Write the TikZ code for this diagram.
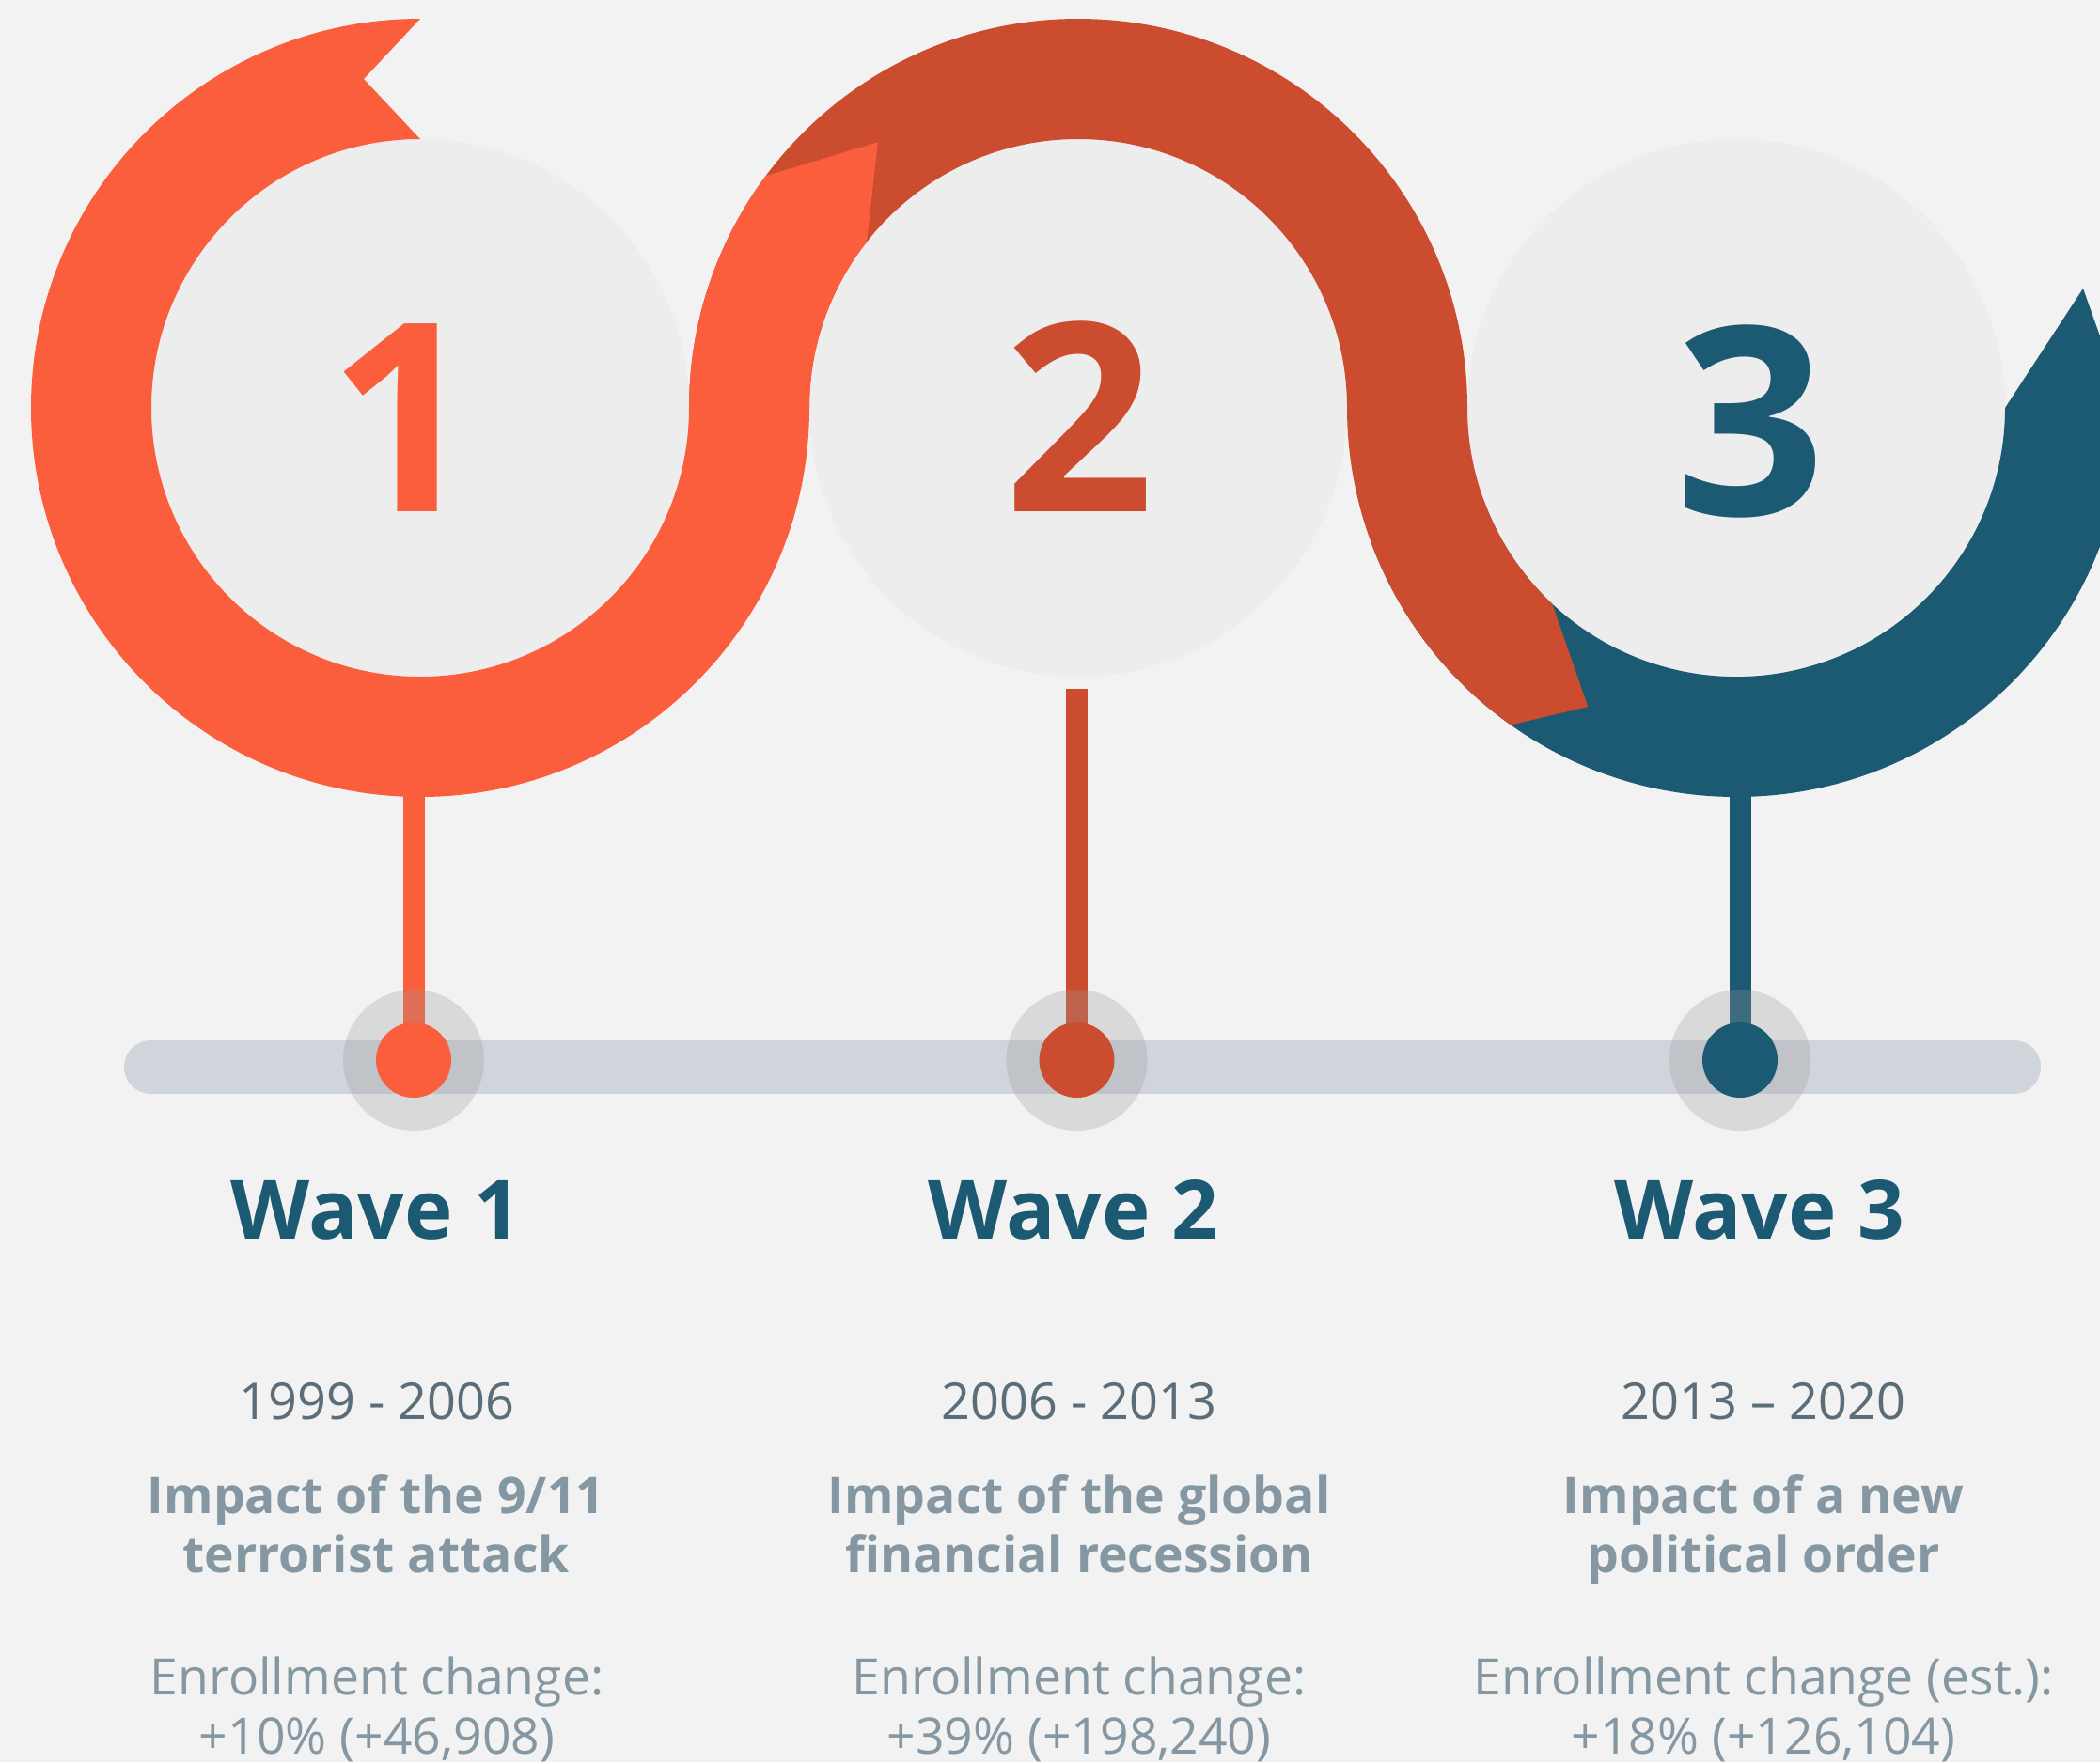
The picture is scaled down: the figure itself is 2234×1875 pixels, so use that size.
\documentclass[tikz,border=0pt]{standalone}
\usepackage{fontspec}
\setmainfont{Open Sans}
\definecolor{paper}{HTML}{F2F2F2}
\definecolor{disc}{HTML}{EDEDED}
\definecolor{flame}{HTML}{FA5E3C}
\definecolor{rust}{HTML}{CC4C30}
\definecolor{petrol}{HTML}{1C5A74}
\definecolor{track}{HTML}{D0D4DB}
\definecolor{haze}{HTML}{9A9A9A}
\definecolor{slate}{HTML}{5A6D78}
\definecolor{mist}{HTML}{8497A2}
\tikzset{
  discfill/.style={fill=disc},
  stem/.style={line width=23pt},
  halo/.style={circle, fill=haze, fill opacity=0.28, minimum size=150pt, inner sep=0pt},
  dot/.style={circle, minimum size=80pt, inner sep=0pt},
  digit/.style={font=\fontsize{280}{280}\selectfont\bfseries, anchor=base, inner sep=0pt},
  wavelabel/.style={font=\fontsize{87}{87}\selectfont\bfseries, text=petrol, anchor=base, inner sep=0pt},
  yearlabel/.style={font=\fontsize{54}{63}\selectfont, text=slate, anchor=base, inner sep=0pt},
  impactlabel/.style={font=\fontsize{53.5}{63}\selectfont\bfseries, text=mist, align=center, anchor=base, inner sep=0pt},
  enrollabel/.style={font=\fontsize{53.5}{63}\selectfont, text=mist, align=center, anchor=base, inner sep=0pt},
}
\begin{document}
\begin{tikzpicture}[x=1pt,y=1pt]
\useasboundingbox (0,0) rectangle (2234,-1875);
\clip (0,0) rectangle (2234,-1875);
\fill[paper] (0,0) rectangle (2234,-1875);

% ring centres
\coordinate (c1) at (447,-434);
\coordinate (c2) at (1147,-434);
\coordinate (c3) at (1847,-434);

% pale discs behind the numbers
\fill[discfill] (c1) circle[radius=286pt];
\fill[discfill] (c2) circle[radius=286pt];
\fill[discfill] (c3) circle[radius=286pt];

% third ribbon (blue) with its arrow head
\fill[petrol] ([shift={(200:286pt)}]c3) arc[start angle=200, end angle=360, radius=286pt]
  -- (2216,-307) -- ([shift={(0:414pt)}]c3)
  arc[start angle=360, end angle=200, radius=414pt] -- cycle;

% second ribbon (rust), over the top of disc 2 and down into ring 3
\fill[rust] ([shift={(180:414pt)}]c2) arc[start angle=180, end angle=0, radius=414pt]
  arc[start angle=180, end angle=226.8, radius=286pt]
  -- ([shift={(243.6:355pt)}]c3) -- ([shift={(234.6:414pt)}]c3)
  arc[start angle=234.6, end angle=180, radius=414pt]
  arc[start angle=0, end angle=180, radius=286pt] -- cycle;

% first ribbon (flame) with a notched tail at the top
\fill[flame] ([shift={(90:414pt)}]c1) arc[start angle=90, end angle=360, radius=414pt]
  arc[start angle=180, end angle=141.9, radius=286pt]
  -- ([shift={(127:354pt)}]c2) -- ([shift={(143.4:414pt)}]c2)
  arc[start angle=143.4, end angle=180, radius=414pt]
  arc[start angle=360, end angle=90, radius=286pt]
  -- (387,-84) -- cycle;

% big numbers
\node[digit, text=flame] (n1) at (429,-544) {1};
\node[digit, text=rust] (n2) at (1148,-544) {2};
\node[digit, text=petrol] (n3) at (1862,-548) {3};

% timeline track
\coordinate (t1) at (160.5,-1135.5);
\coordinate (t2) at (2142.5,-1135.5);
\draw[track, line width=57pt, line cap=round] (t1) -- (t2);

% stems from the rings to the track
\coordinate (p1) at (440,-1128);
\coordinate (p2) at (1145.5,-1128);
\coordinate (p3) at (1851,-1128);
\coordinate (s1) at (440,-846);
\coordinate (s2) at (1145.5,-733);
\coordinate (s3) at (1851,-846);
\draw[stem, flame] (s1) -- (p1);
\draw[stem, rust] (s2) -- (p2);
\draw[stem, petrol] (s3) -- (p3);

% halos and dots
\node[halo] (h1) at (p1) {};
\node[halo] (h2) at (p2) {};
\node[halo] (h3) at (p3) {};
\node[dot, fill=flame] (d1) at (p1) {};
\node[dot, fill=rust] (d2) at (p2) {};
\node[dot, fill=petrol] (d3) at (p3) {};

% captions (two-line nodes sit on the baseline of their last line)
\node[wavelabel] (w1) at (400,-1318) {Wave 1};
\node[wavelabel] (w2) at (1142,-1318) {Wave 2};
\node[wavelabel] (w3) at (1872,-1318) {Wave 3};

\node[yearlabel] (y1) at (401,-1510) {1999 - 2006};
\node[yearlabel] (y2) at (1148,-1510) {2006 - 2013};
\node[yearlabel] (y3) at (1876,-1510) {2013 – 2020};

\node[impactlabel] (i1) at (400,-1673) {Impact of the 9/11\\terrorist attack};
\node[impactlabel] (i2) at (1148,-1673) {Impact of the global\\financial recession};
\node[impactlabel] (i3) at (1876,-1673) {Impact of a new\\political order};

\node[enrollabel] (e1) at (401,-1866) {Enrollment change:\\+10\% (+46,908)};
\node[enrollabel] (e2) at (1148,-1866) {Enrollment change:\\+39\% (+198,240)};
\node[enrollabel] (e3) at (1876,-1866) {Enrollment change (est.):\\+18\% (+126,104)};
\end{tikzpicture}
\end{document}
